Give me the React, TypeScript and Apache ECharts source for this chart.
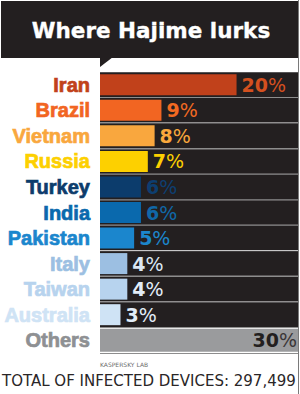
import React, { useEffect, useRef } from 'react';
import * as echarts from 'echarts';

const categories = ['Iran', 'Brazil', 'Vietnam', 'Russia', 'Turkey', 'India', 'Pakistan', 'Italy', 'Taiwan', 'Australia', 'Others'];
const values = [20, 9, 8, 7, 6, 6, 5, 4, 4, 3, 30];
const barColors = ['#c1411b', '#f26522', '#f9a73e', '#fdd000', '#0c3c6c', '#0a69ad', '#1b86cd', '#9cbfe2', '#b7d3ee', '#cfe3f5', '#9a9b9d'];
const nameColors = ['#c1411b', '#f26522', '#f9a73e', '#fdd000', '#0c3c6c', '#0a69ad', '#1b86cd', '#9cbfe2', '#b7d3ee', '#cfe3f5', '#8e9093'];
const valueColors = ['#d4501f', '#f26a22', '#f9a83c', '#fdd000', '#0d3e70', '#1068a8', '#1c86cc', '#dbe7f3', '#e2edf8', '#e2edf8', '#231f20'];
const titleText = 'Where Hajime lurks';
const sourceText = 'KASPERSKY LAB';
const totalText = 'TOTAL OF INFECTED DEVICES: 297,499';
const AXIS_MAX = 29;

export default function App() {
  const ref = useRef<HTMLDivElement>(null);
  useEffect(() => {
    const chart = echarts.init(ref.current as HTMLDivElement, null, { renderer: 'svg' });
    const n = categories.length;
    const last = n - 1;
    const hiddenCat = {
      type: 'category',
      inverse: true,
      data: categories,
      show: false,
    };
    const rich = {
      n: { fontFamily: 'DejaVu Sans', fontWeight: 'bold', fontSize: 19 },
      p: { fontFamily: 'DejaVu Sans', fontWeight: 'normal', fontSize: 19 },
    };
    chart.setOption({
      animation: false,
      backgroundColor: '#ffffff',
      grid: { left: 100, right: 2, top: 72, height: 281 },
      xAxis: { type: 'value', min: 0, max: AXIS_MAX, show: false },
      yAxis: [
        {
          type: 'category',
          inverse: true,
          data: categories.map((c, i) => ({
            value: c,
            textStyle: { color: nameColors[i], textBorderColor: nameColors[i], textBorderWidth: 0.7 },
          })),
          axisLine: { show: false },
          axisTick: { show: false },
          splitLine: { show: true, interval: 0, lineStyle: { color: '#8d8d8d', width: 1 } },
          axisLabel: { interval: 0, margin: 10, fontFamily: 'Liberation Sans', fontWeight: 'bold', fontSize: 20 },
        },
        hiddenCat,
        hiddenCat,
      ],
      series: [
        {
          type: 'bar',
          name: 'track',
          yAxisIndex: 1,
          data: values.map((v, i) => (i === last ? null : AXIS_MAX)),
          barWidth: 24.5,
          itemStyle: { color: '#231f20' },
          silent: true,
          z: 1,
        },
        {
          type: 'bar',
          name: 'share',
          yAxisIndex: 0,
          data: values.map((v, i) =>
            i === last
              ? null
              : {
                  value: v,
                  itemStyle: { color: barColors[i] },
                  label: {
                    color: valueColors[i],
                    rich: {
                      n: { ...rich.n, color: valueColors[i] },
                      p: { ...rich.p, color: valueColors[i] },
                    },
                  },
                }
          ),
          barWidth: 21,
          z: 2,
          label: {
            show: true,
            position: 'right',
            distance: 5,
            formatter: (p: any) => `{n|${p.value}}{p|%}`,
            rich,
          },
        },
        {
          type: 'bar',
          name: 'others',
          yAxisIndex: 2,
          data: values.map((v, i) => (i === last ? v : null)),
          barWidth: 23,
          itemStyle: { color: barColors[last] },
          z: 2,
          label: {
            show: true,
            position: 'insideRight',
            distance: 1,
            color: valueColors[last],
            formatter: (p: any) => `{n|${p.value}}{p|%}`,
            rich: {
              n: { ...rich.n, color: '#231f20' },
              p: { ...rich.p, color: '#3a3637' },
            },
          },
        },
      ],
      graphic: [
        { type: 'rect', shape: { x: 1, y: 1, width: 297, height: 57 }, style: { fill: '#231f20' }, z: 10 },
        { type: 'polygon', shape: { points: [[100, 57], [100, 67], [113, 57]] }, style: { fill: '#231f20' }, z: 10 },
        {
          type: 'text',
          x: 151,
          y: 30,
          style: {
            text: titleText,
            fill: '#ffffff',
            stroke: '#ffffff',
            lineWidth: 0.35,
            font: 'bold 21.5px "DejaVu Sans"',
            textAlign: 'center',
            textVerticalAlign: 'middle',
          },
          z: 11,
        },
        {
          type: 'text',
          x: 100,
          y: 364,
          style: {
            text: sourceText,
            fill: '#6d6d6d',
            font: '6px "DejaVu Sans"',
            textAlign: 'left',
            textVerticalAlign: 'middle',
          },
          z: 11,
        },
        {
          type: 'text',
          x: 2,
          y: 381,
          style: {
            text: totalText,
            fill: '#2a2627',
            font: '15px "DejaVu Sans"',
            textAlign: 'left',
            textVerticalAlign: 'middle',
          },
          z: 11,
        },
        {
          type: 'line',
          shape: { x1: 298.5, y1: 0, x2: 298.5, y2: 394 },
          style: { stroke: '#7a7a7a', lineWidth: 1 },
          z: 12,
        },
      ],
    });
    return () => chart.dispose();
  }, []);
  return <div ref={ref} style={{ position: 'absolute', left: 0, top: 0, width: 300, height: 394 }} />;
}
